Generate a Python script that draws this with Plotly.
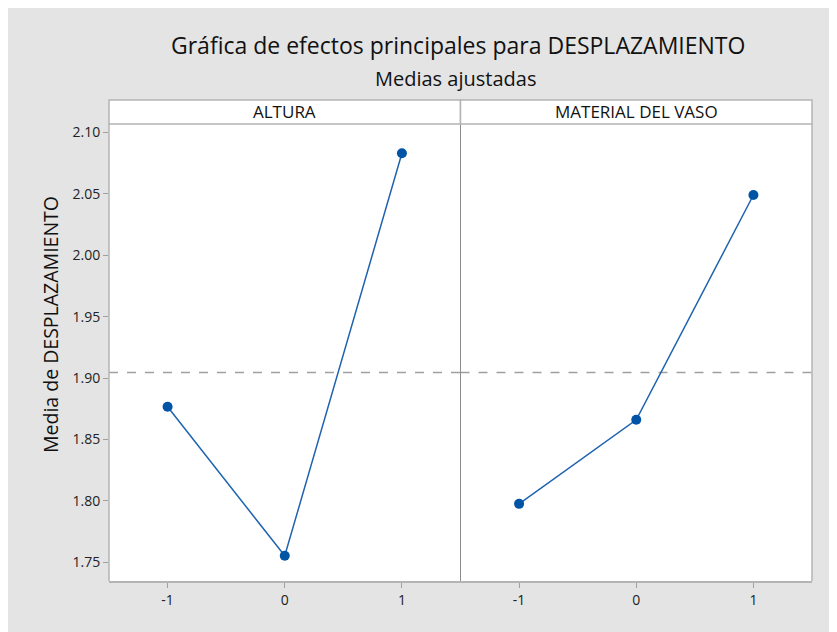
import plotly.graph_objects as go
from plotly.subplots import make_subplots

# Data
levels = [-1, 0, 1]
level_labels = ["-1", "0", "1"]
altura_means = [1.8766, 1.7553, 2.0830]
material_means = [1.7976, 1.8660, 2.0490]
overall_mean = 1.9045
panel_names = ["ALTURA", "MATERIAL DEL VASO"]
y_ticks = [1.75, 1.80, 1.85, 1.90, 1.95, 2.00, 2.05, 2.10]
y_tick_text = ["1.75", "1.80", "1.85", "1.90", "1.95", "2.00", "2.05", "2.10"]

FONT = "Open Sans, sans-serif"
BLUE = "#0054A6"
LINE_BLUE = "#1F63B0"
GRID = "#A0A0A0"
FRAME = "#B4B4B4"
BG = "#E4E4E4"

W, H = 837, 632
ML, MT = 101, 116
PW, PH = 703, 457
MR = W - ML - PW
MB = H - MT - PH

fig = make_subplots(rows=1, cols=2, shared_yaxes=True, horizontal_spacing=0)

for i, vals in enumerate([altura_means, material_means]):
    fig.add_trace(go.Scatter(
        x=[-1.5, 1.5], y=[overall_mean, overall_mean], mode="lines",
        line=dict(color=GRID, width=1.5, dash="dash"),
        showlegend=False, hoverinfo="skip"), row=1, col=i + 1)
    fig.add_trace(go.Scatter(
        x=levels, y=vals, mode="lines+markers",
        line=dict(color=LINE_BLUE, width=1.5),
        marker=dict(color=BLUE, size=10),
        showlegend=False, hoverinfo="x+y"), row=1, col=i + 1)

fig.update_xaxes(
    range=[-1.5, 1.5], tickvals=levels, ticktext=level_labels,
    ticks="outside", ticklen=5, tickcolor=GRID, tickwidth=1,
    showgrid=False, zeroline=False, showline=True, linecolor=FRAME, linewidth=1.5,
    mirror=True, tickfont=dict(family=FONT, size=14, color="#222222"),
)
fig.update_yaxes(
    range=[1.7348, 2.1068], tickvals=y_ticks, ticktext=y_tick_text,
    ticks="outside", ticklen=5, tickcolor=GRID, tickwidth=1,
    showgrid=False, zeroline=False, showline=False,
    tickfont=dict(family=FONT, size=14, color="#222222"),
)
fig.update_yaxes(ticks="", row=1, col=2)

shapes = []
# outer frame sides
shapes.append(dict(type="line", xref="paper", yref="paper",
                   x0=0, x1=0, y0=0, y1=1, line=dict(color=FRAME, width=1.5)))
shapes.append(dict(type="line", xref="paper", yref="paper",
                   x0=1, x1=1, y0=0, y1=1, line=dict(color=FRAME, width=1.5)))
# panel divider
shapes.append(dict(type="line", xref="paper", yref="paper",
                   x0=0.5, x1=0.5, y0=0, y1=1, line=dict(color="#8C8C8C", width=1)))
# header strips
head_top = 1 + 24 / PH
for j in range(2):
    shapes.append(dict(type="rect", xref="paper", yref="paper",
                       x0=0.5 * j, x1=0.5 * (j + 1), y0=1, y1=head_top,
                       fillcolor="white", line=dict(color=FRAME, width=1.5)))

annotations = []
for j, name in enumerate(panel_names):
    annotations.append(dict(text=name, xref="paper", yref="paper",
                            x=0.25 + 0.5 * j, y=1 + 12 / PH, showarrow=False,
                            xanchor="center", yanchor="middle",
                            font=dict(family=FONT, size=17, color="#111111")))
annotations.append(dict(text="Gráfica de efectos principales para DESPLAZAMIENTO",
                        xref="paper", yref="paper", x=(450 - ML) / PW, y=1 + (MT - 37) / PH,
                        xanchor="center", yanchor="middle", showarrow=False,
                        font=dict(family=FONT, size=23, color="#111111")))
annotations.append(dict(text="Medias ajustadas",
                        xref="paper", yref="paper", x=(447 - ML) / PW, y=1 + (MT - 71) / PH,
                        xanchor="center", yanchor="middle", showarrow=False,
                        font=dict(family=FONT, size=20, color="#111111")))
annotations.append(dict(text="Media de DESPLAZAMIENTO",
                        xref="paper", yref="paper", x=(42 - ML) / PW, y=1 - (317 - MT) / PH,
                        xanchor="center", yanchor="middle", textangle=-90, showarrow=False,
                        font=dict(family=FONT, size=19.5, color="#111111")))

fig.update_layout(
    width=W, height=H, autosize=False,
    margin=dict(l=ML, r=MR, t=MT, b=MB),
    paper_bgcolor=BG, plot_bgcolor="white",
    shapes=shapes, annotations=annotations, showlegend=False,
)

fig.write_html("out.html")
